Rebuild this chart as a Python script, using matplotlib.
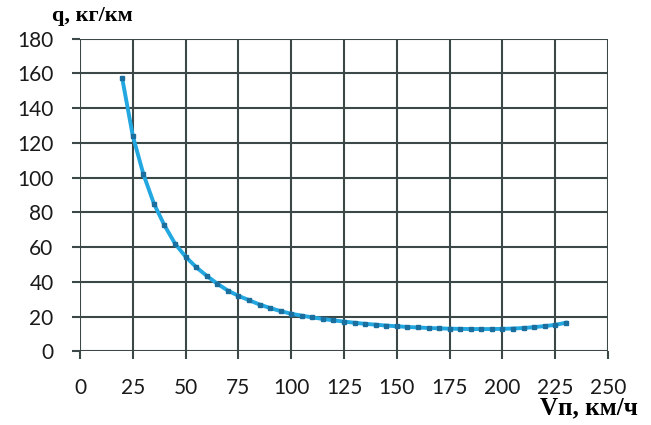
import matplotlib
matplotlib.use('Agg')
import matplotlib.pyplot as plt

# speed, km/h and fuel consumption, kg/km
speed = [20, 25, 30, 35, 40, 45, 50, 55, 60, 65, 70, 75, 80, 85, 90, 95, 100,
         105, 110, 115, 120, 125, 130, 135, 140, 145, 150, 155, 160, 165, 170,
         175, 180, 185, 190, 195, 200, 205, 210, 215, 220, 225, 230]
q = [157, 124, 102, 85, 72.5, 62, 54.5, 48.5, 43.5, 39, 35, 32, 29.5, 27, 25,
     23.2, 21.7, 20.6, 19.6, 18.7, 17.9, 17.2, 16.5, 15.9, 15.4, 14.9, 14.5,
     14.1, 13.8, 13.5, 13.3, 13.1, 13.0, 12.9, 12.9, 12.9, 13.0, 13.2, 13.5,
     14.0, 14.6, 15.3, 16.5]
x_ticks = [0, 25, 50, 75, 100, 125, 150, 175, 200, 225, 250]
y_ticks = [0, 20, 40, 60, 80, 100, 120, 140, 160, 180]

fig = plt.figure(figsize=(6.51, 4.25), dpi=100)
ax = fig.add_axes([0.1229, 0.173, 0.8111, 0.7364])

grid_col = '#3c4848'
ax.plot(speed, q, color='#22a7e0', lw=2.8, zorder=3)
ax.plot(speed, q, ls='none', marker='s', ms=2.8, color='#1a6f9e', zorder=4)

ax.set_xlim(0, 250)
ax.set_ylim(0, 180)
ax.set_xticks(x_ticks)
ax.set_yticks(y_ticks)
ax.grid(True, color=grid_col, lw=1.5)
ax.set_axisbelow(True)
for s in ax.spines.values():
    s.set_visible(False)
ax.tick_params(direction='out', length=6, width=1.5, color=grid_col,
               labelsize=15, pad=13, labelcolor='#1a1a1a')
for lab in ax.get_xticklabels() + ax.get_yticklabels():
    lab.set_family('Lato')

fig.text(0.08, 0.962, 'q, кг/км', family='Liberation Serif', weight='bold',
         fontsize=16, ha='left', va='center')
fig.text(0.98, 0.04, 'Vп, км/ч', family='Liberation Serif', weight='bold',
         fontsize=18, ha='right', va='center')

fig.savefig('out.png', dpi=100)
